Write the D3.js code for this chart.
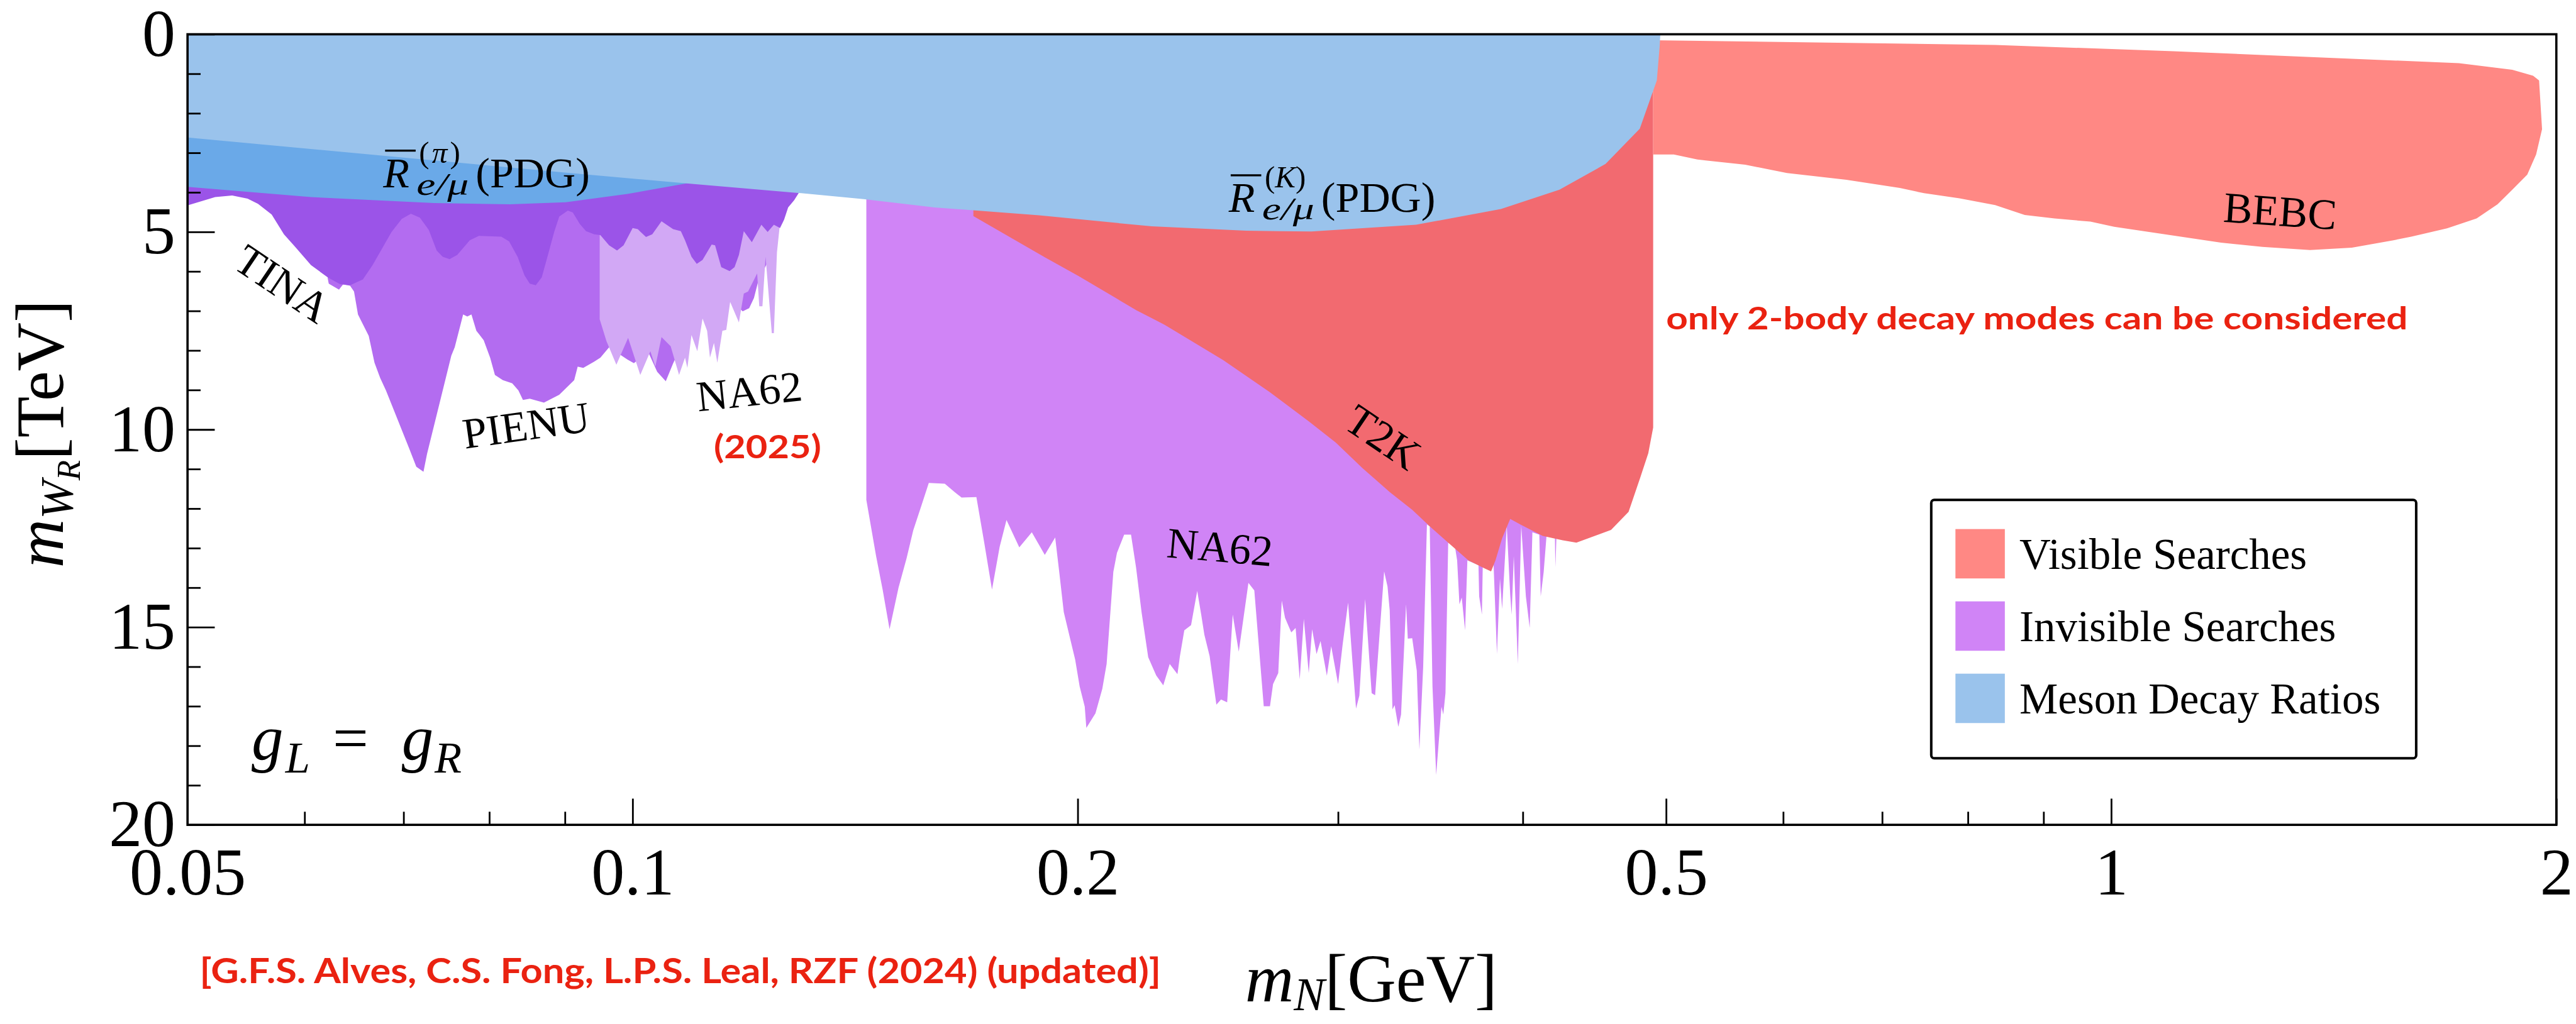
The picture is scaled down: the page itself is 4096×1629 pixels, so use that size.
<!DOCTYPE html>
<html>
<head>
<meta charset="utf-8">
<script src="https://d3js.org/d3.v7.min.js"></script>
<style>
  body { margin: 0; background: #ffffff; }
  svg { display: block; }
  text { font-family: "Liberation Serif", "DejaVu Serif", serif; fill: #000; }
  .note { font-family: "Comic Sans MS", "Lato", "Noto Sans", sans-serif; font-weight: bold; fill: #ea2211; }
</style>
</head>
<body>
<svg id="chart"></svg>
<script>
// axis ticks
const xMajorTicks = [0.05, 0.1, 0.2, 0.5, 1, 2];
const xMinorTicks = [0.06, 0.07, 0.08, 0.09, 0.3, 0.4, 0.6, 0.7, 0.8, 0.9];
const yMajorTicks = [0, 5, 10, 15, 20];
const yMinorTicks = [1, 2, 3, 4, 6, 7, 8, 9, 11, 12, 13, 14, 16, 17, 18, 19];

// lower edges of the excluded regions, [m_N (GeV), m_WR (TeV)]
const kaonRatio = [[0.050, 2.61], [0.070, 3.12], [0.090, 3.50], [0.110, 3.79], [0.130, 4.02], [0.1433, 4.17],
  [0.160, 4.38], [0.1883, 4.58], [0.2244, 4.86], [0.2600, 4.97], [0.2878, 4.99], [0.3387, 4.82], [0.3866, 4.42],
  [0.4235, 3.93], [0.4550, 3.28], [0.4799, 2.39], [0.4928, 1.17], [0.4950, 0.30], [0.4955, 0.0]];

const pionRatio = [[0.050, 3.86], [0.0606, 4.12], [0.0734, 4.27], [0.0826, 4.30], [0.0901, 4.25], [0.0992, 4.04],
  [0.1092, 3.76], [0.1111, 3.70], [0.1150, 3.50], [0.1200, 3.20]];

const tina = [[0.0500, 4.33], [0.0522, 4.12], [0.0536, 4.08], [0.0549, 4.16], [0.0558, 4.29], [0.0570, 4.56],
  [0.0581, 5.06], [0.0591, 5.37], [0.0606, 5.84], [0.0622, 6.15], [0.0634, 6.32], [0.0644, 6.35], [0.0657, 6.20],
  [0.0667, 5.84], [0.0687, 5.00], [0.0698, 4.67], [0.0708, 4.54], [0.0718, 4.64], [0.0728, 4.95], [0.0737, 5.47],
  [0.0744, 5.63], [0.0752, 5.69], [0.0761, 5.58], [0.0776, 5.21], [0.0787, 5.10], [0.0815, 5.12], [0.0825, 5.24],
  [0.0836, 5.63], [0.0845, 6.10], [0.0852, 6.31], [0.0860, 6.35], [0.0868, 6.15], [0.0875, 5.68], [0.0885, 5.00],
  [0.0892, 4.61], [0.0904, 4.46], [0.0911, 4.51], [0.0921, 4.80], [0.0930, 4.98], [0.0942, 5.06], [0.0951, 5.08],
  [0.0964, 5.34], [0.0976, 5.47], [0.0986, 5.34], [0.1000, 4.90], [0.1008, 4.93], [0.1021, 5.13], [0.1031, 5.06],
  [0.1046, 4.73], [0.1065, 4.93], [0.1078, 4.98], [0.1085, 5.21], [0.1096, 5.63], [0.1105, 5.81], [0.1115, 5.71],
  [0.1131, 5.32], [0.1137, 5.34], [0.1148, 5.89], [0.1163, 5.99], [0.1172, 5.89], [0.1180, 5.58], [0.1189, 4.98],
  [0.1204, 5.26], [0.1222, 4.82], [0.1234, 5.00], [0.1246, 4.82], [0.1258, 4.90], [0.1266, 4.69], [0.1274, 4.38],
  [0.1286, 4.20], [0.1295, 4.02], [0.1298, 3.90]];

const pienu = [[0.0622, 6.18], [0.0623, 6.31], [0.0633, 6.46], [0.0637, 6.33], [0.0644, 6.36], [0.0648, 6.51],
  [0.0652, 7.09], [0.0663, 7.63], [0.0669, 8.31], [0.0675, 8.70], [0.0681, 9.01], [0.0689, 9.48], [0.0706, 10.47],
  [0.0714, 10.94], [0.0722, 11.07], [0.0726, 10.62], [0.0754, 8.13], [0.0758, 7.92], [0.0768, 7.09], [0.0773, 7.14],
  [0.0778, 7.09], [0.0784, 7.50], [0.0793, 7.74], [0.0801, 8.18], [0.0807, 8.62], [0.0817, 8.75], [0.0829, 8.83],
  [0.0837, 9.01], [0.0843, 9.25], [0.0852, 9.22], [0.0871, 9.32], [0.0892, 9.12], [0.0913, 8.75], [0.0918, 8.41],
  [0.0926, 8.44], [0.0942, 8.28], [0.0951, 8.18], [0.0964, 7.92], [0.0992, 8.23], [0.1002, 8.32], [0.1024, 8.02],
  [0.1039, 8.54], [0.1053, 8.78], [0.1065, 8.33], [0.1068, 8.23], [0.1075, 7.00], [0.1160, 6.70], [0.1164, 6.72],
  [0.1187, 7.01], [0.1199, 6.93], [0.1208, 6.67], [0.1216, 6.25], [0.1240, 5.60], [0.1254, 5.11]];

const na62New = [[0.0950, 7.21], [0.0960, 7.76], [0.0975, 8.36], [0.0993, 7.68], [0.1012, 8.62], [0.1028, 8.02],
  [0.1036, 8.41], [0.1046, 7.66], [0.1061, 7.89], [0.1075, 8.62], [0.1085, 8.18], [0.1089, 8.44], [0.1096, 7.61],
  [0.1106, 8.02], [0.1115, 7.19], [0.1123, 7.50], [0.1128, 8.18], [0.1135, 7.81], [0.1141, 8.31], [0.1150, 7.50],
  [0.1157, 7.48], [0.1164, 6.77], [0.1180, 7.29], [0.1189, 6.56], [0.1197, 6.51], [0.1214, 6.05], [0.1218, 6.88],
  [0.1224, 6.88], [0.1230, 5.63], [0.1242, 7.56], [0.1246, 7.56], [0.1252, 5.52], [0.1257, 4.90]];

const na62 = [[0.1439, 11.78], [0.1461, 13.20], [0.1476, 14.05], [0.1492, 15.05], [0.1513, 14.00], [0.1532, 13.26],
  [0.1548, 12.55], [0.1567, 11.95], [0.1586, 11.35], [0.1626, 11.37], [0.1651, 11.58], [0.1669, 11.72], [0.1708, 11.71],
  [0.1729, 12.86], [0.1750, 14.05], [0.1771, 12.97], [0.1790, 12.29], [0.1826, 12.98], [0.1862, 12.60], [0.1900, 13.17],
  [0.1931, 12.73], [0.1944, 13.66], [0.1957, 14.62], [0.1992, 15.82], [0.2006, 16.50], [0.2022, 17.01], [0.2027, 17.55],
  [0.2056, 17.18], [0.2078, 16.56], [0.2092, 15.93], [0.2114, 13.60], [0.2126, 13.12], [0.2150, 12.66], [0.2173, 12.66],
  [0.2190, 13.48], [0.2209, 14.62], [0.2232, 15.76], [0.2260, 16.22], [0.2285, 16.47], [0.2308, 15.93], [0.2336, 16.19],
  [0.2345, 15.73], [0.2361, 15.08], [0.2386, 14.95], [0.2409, 14.08], [0.2424, 14.68], [0.2436, 15.19], [0.2456, 15.73],
  [0.2482, 16.96], [0.2500, 16.83], [0.2524, 16.90], [0.2546, 14.68], [0.2570, 15.62], [0.2609, 13.88], [0.2633, 14.07],
  [0.2672, 17.00], [0.2698, 17.00], [0.2711, 16.44], [0.2733, 16.16], [0.2748, 14.33], [0.2762, 14.76], [0.2789, 15.13],
  [0.2808, 15.02], [0.2826, 16.32], [0.2844, 14.79], [0.2866, 16.16], [0.2881, 15.05], [0.2901, 15.68], [0.2919, 15.35],
  [0.2948, 16.23], [0.2968, 15.48], [0.3000, 16.44], [0.3021, 15.45], [0.3047, 14.38], [0.3069, 15.96], [0.3085, 17.06],
  [0.3101, 16.73], [0.3129, 14.29], [0.3161, 16.67], [0.3178, 16.72], [0.3223, 13.59], [0.3240, 13.97], [0.3251, 14.57],
  [0.3265, 17.08], [0.3276, 16.97], [0.3295, 17.52], [0.3309, 17.21], [0.3335, 14.42], [0.3344, 15.29], [0.3367, 15.28],
  [0.3391, 16.10], [0.3405, 18.10], [0.3425, 16.00], [0.3445, 12.40], [0.3460, 12.45], [0.3475, 16.50], [0.3495, 18.74],
  [0.3524, 17.01], [0.3534, 17.21], [0.3546, 16.67], [0.3561, 12.86], [0.3599, 12.97], [0.3611, 13.31], [0.3624, 14.42],
  [0.3637, 14.25], [0.3656, 15.08], [0.3669, 13.31], [0.3733, 13.43], [0.3737, 14.22], [0.3753, 14.68], [0.3758, 13.43],
  [0.3822, 13.43], [0.3842, 15.68], [0.3860, 13.77], [0.3873, 14.54], [0.3901, 12.43], [0.3922, 14.17], [0.3931, 14.68],
  [0.3944, 13.20], [0.3969, 15.93], [0.3990, 12.43], [0.4019, 14.22], [0.4043, 15.02], [0.4060, 12.60], [0.4104, 12.66],
  [0.4113, 14.22], [0.4132, 13.60], [0.4150, 12.70], [0.4205, 12.75], [0.4208, 13.48], [0.4215, 12.70], [0.4250, 12.60]];

const t2k = [[0.1700, 4.46], [0.1700, 4.60], [0.1900, 5.64], [0.2003, 6.12], [0.2191, 6.98], [0.2290, 7.35],
  [0.2508, 8.24], [0.2696, 9.05], [0.2866, 9.79], [0.2989, 10.33], [0.3117, 10.98], [0.3251, 11.58], [0.3367, 12.03],
  [0.3463, 12.46], [0.3561, 12.86], [0.3675, 13.31], [0.3767, 13.51], [0.3807, 13.59], [0.3833, 13.31], [0.3873, 12.75],
  [0.3922, 12.26], [0.3984, 12.40], [0.4125, 12.69], [0.4256, 12.80], [0.4348, 12.86], [0.4589, 12.54], [0.4716, 12.08],
  [0.4799, 11.25], [0.4863, 10.60], [0.4900, 9.95]];

const bebc = [[0.490, 0.15], [0.8346, 0.27], [1.1016, 0.43], [1.4545, 0.62], [1.7185, 0.73], [1.8675, 0.90],
  [1.929, 1.05], [1.947, 1.17], [1.956, 2.40], [1.938, 3.04], [1.9115, 3.55], [1.8675, 3.93], [1.825, 4.30],
  [1.7665, 4.66], [1.687, 4.91], [1.5955, 5.12], [1.552, 5.21], [1.4545, 5.40], [1.363, 5.46], [1.2655, 5.38],
  [1.1865, 5.27], [1.0045, 4.87], [0.968, 4.74], [0.9155, 4.66], [0.874, 4.57], [0.8346, 4.32], [0.7895, 4.15],
  [0.747, 4.02], [0.7195, 3.89], [0.662, 3.68], [0.6035, 3.51], [0.5655, 3.30], [0.525, 3.17], [0.506, 3.04],
  [0.490, 3.04]];

const legendLabels = ["Visible Searches", "Invisible Searches", "Meson Decay Ratios"];

const colors = {
  visible: "#ff8884", t2k: "#f26a70",
  invisible: "#d084f6", pienu: "#b36cf0", tina: "#9b54e8", na62New: "#d2a8f5",
  kaon: "#9ac3ec", pion: "#6aa9e8",
  note: "#ea2211"
};

// reference is 5110 x 2032, drawn at 0.8016
const plot = {left: 372, right: 5071, top: 68, bottom: 1637};
const x = d3.scaleLog().domain([0.05, 2]).range([plot.left, plot.right]);
const y = d3.scaleLinear().domain([0, 20]).range([plot.top, plot.bottom]);

const svg = d3.select("#chart").attr("width", 4096).attr("height", 1629);
const root = svg.append("g").attr("transform", "scale(" + (4096 / 5110) + ")");

root.append("clipPath").attr("id", "plotClip")
  .append("rect")
    .attr("x", plot.left).attr("y", plot.top)
    .attr("width", plot.right - plot.left).attr("height", plot.bottom - plot.top);

const regions = root.append("g").attr("clip-path", "url(#plotClip)");

function plotRegion(g, data, color) {
  let area = d3.area()
    .x(function(d) { return x(d[0]); })
    .y0(y(0))
    .y1(function(d) { return y(d[1]); });
  g.append("path").datum(data).attr("d", area).attr("fill", color);
}

function plotOutline(g, data, color) {
  let line = d3.line()
    .x(function(d) { return x(d[0]); })
    .y(function(d) { return y(d[1]); })
    .curve(d3.curveLinearClosed);
  g.append("path").datum(data).attr("d", line).attr("fill", color);
}

plotRegion(regions, na62, colors.invisible);
plotRegion(regions, t2k, colors.t2k);
plotOutline(regions, bebc, colors.visible);
plotRegion(regions, pienu, colors.pienu);
plotRegion(regions, na62New, colors.na62New);
plotRegion(regions, tina, colors.tina);
plotRegion(regions, pionRatio, colors.pion);
plotRegion(regions, kaonRatio, colors.kaon);

// frame
root.append("rect")
  .attr("x", plot.left).attr("y", plot.top)
  .attr("width", plot.right - plot.left).attr("height", plot.bottom - plot.top)
  .attr("fill", "none").attr("stroke", "#000").attr("stroke-width", 4.5);

function styleAxis(a, size) {
  a.select(".domain").remove();
  a.attr("font-family", null).attr("font-size", null);
  a.selectAll(".tick line").attr("stroke", "#000").attr("stroke-width", 3.5);
  a.selectAll(".tick text").attr("font-size", size).attr("fill", "#000");
}

function formatXAxis(g) {
  let major = g.append("g")
    .attr("transform", "translate(0," + plot.bottom + ")")
    .call(d3.axisBottom(x).tickValues(xMajorTicks).tickSize(-52).tickPadding(44)
      .tickFormat(function(d) { return String(d); }));
  styleAxis(major, 132);
  let minor = g.append("g")
    .attr("transform", "translate(0," + plot.bottom + ")")
    .call(d3.axisBottom(x).tickValues(xMinorTicks).tickSize(-26).tickFormat(""));
  styleAxis(minor, 0);
}

function formatYAxis(g) {
  let major = g.append("g")
    .attr("transform", "translate(" + plot.left + ",0)")
    .call(d3.axisLeft(y).tickValues(yMajorTicks).tickSize(-54).tickPadding(24)
      .tickFormat(function(d) { return String(d); }));
  styleAxis(major, 132);
  let minor = g.append("g")
    .attr("transform", "translate(" + plot.left + ",0)")
    .call(d3.axisLeft(y).tickValues(yMinorTicks).tickSize(-26).tickFormat(""));
  styleAxis(minor, 0);
}

formatXAxis(root);
formatYAxis(root);

// axis titles
let xTitle = root.append("text")
  .attr("x", 2720).attr("y", 1987)
  .attr("text-anchor", "middle")
  .attr("font-size", 134);
xTitle.append("tspan").attr("font-style", "italic").text("m");
xTitle.append("tspan").attr("font-style", "italic").attr("font-size", 92).attr("dy", 18).text("N");
xTitle.append("tspan").attr("dy", -18).text("[GeV]");

let yTitle = root.append("text")
  .attr("text-anchor", "middle")
  .attr("font-size", 134)
  .attr("transform", "translate(125,861) rotate(-90)");
yTitle.append("tspan").attr("font-style", "italic").text("m");
yTitle.append("tspan").attr("font-style", "italic").attr("font-size", 92).attr("dy", 20).text("W");
yTitle.append("tspan").attr("font-style", "italic").attr("font-size", 66).attr("dy", 14).text("R");
yTitle.append("tspan").attr("dy", -34).text("[TeV]");

// region labels
function addLabel(g, text, at, angle, size) {
  g.append("text")
    .attr("text-anchor", "middle")
    .attr("dy", "0.35em")
    .attr("font-size", size)
    .attr("transform", "translate(" + x(at[0]) + "," + y(at[1]) + ") rotate(" + angle + ")")
    .text(text);
}

addLabel(root, "TINA", [0.0580, 6.30], 34, 86);
addLabel(root, "PIENU", [0.0847, 9.88], -8, 86);
addLabel(root, "NA62", [0.1199, 9.02], -6, 86);
addLabel(root, "NA62", [0.2496, 12.96], 5, 86);
addLabel(root, "T2K", [0.3219, 10.18], 34, 86);
addLabel(root, "BEBC", [1.301, 4.46], 4, 86);

function addRatioLabel(g, at, meson, size) {
  let lab = g.append("g")
    .attr("transform", "translate(" + x(at[0]) + "," + y(at[1]) + ")")
    .attr("font-size", size);
  lab.append("text").attr("font-style", "italic").text("R");
  lab.append("line")
    .attr("x1", 4).attr("x2", 0.76 * size)
    .attr("y1", -0.86 * size).attr("y2", -0.86 * size)
    .attr("stroke", "#000").attr("stroke-width", 4);
  let sup = lab.append("text")
    .attr("x", 0.84 * size).attr("y", -0.58 * size)
    .attr("font-size", 0.72 * size)
    .attr("textLength", 0.96 * size).attr("lengthAdjust", "spacing");
  sup.append("tspan").text("(");
  sup.append("tspan").attr("font-style", "italic").text(meson);
  sup.append("tspan").text(")");
  lab.append("text")
    .attr("x", 0.78 * size).attr("y", 0.17 * size)
    .attr("font-size", 0.74 * size).attr("font-style", "italic")
    .attr("textLength", 1.22 * size).attr("lengthAdjust", "spacingAndGlyphs")
    .text("e/μ");
  lab.append("text").attr("x", 2.16 * size).text("(PDG)");
}

addRatioLabel(root, [0.0678, 3.875], "π", 85);
addRatioLabel(root, [0.253, 4.50], "K", 85);

// g_L = g_R, glyphs placed at the reference positions
let coupling = root.append("text")
  .attr("y", 1507)
  .attr("font-size", 126).attr("font-style", "italic");
coupling.append("tspan").attr("x", 499).text("g");
coupling.append("tspan").attr("x", 566).attr("font-size", 88).attr("dy", 26).text("L");
coupling.append("tspan").attr("x", 660).attr("dy", -26).attr("font-style", "normal").text("=");
coupling.append("tspan").attr("x", 797).text("g");
coupling.append("tspan").attr("x", 862).attr("font-size", 88).attr("dy", 26).text("R");

// red notes
root.append("text").attr("class", "note")
  .attr("x", x(0.5)).attr("y", 654)
  .attr("font-size", 62)
  .attr("textLength", 1471).attr("lengthAdjust", "spacingAndGlyphs")
  .text("only 2-body decay modes can be considered");

root.append("text").attr("class", "note")
  .attr("x", 1416).attr("y", 909)
  .attr("font-size", 64)
  .attr("textLength", 213).attr("lengthAdjust", "spacingAndGlyphs")
  .text("(2025)");

root.append("text").attr("class", "note")
  .attr("x", 396).attr("y", 1951)
  .attr("font-size", 68)
  .attr("textLength", 1907).attr("lengthAdjust", "spacingAndGlyphs")
  .text("[G.F.S. Alves, C.S. Fong, L.P.S. Leal, RZF (2024) (updated)]");

// legend
function addLegend(g) {
  let legend = g.append("g").attr("transform", "translate(3831,992)");
  legend.append("rect")
    .attr("width", 962).attr("height", 513).attr("rx", 6)
    .attr("fill", "#fff").attr("stroke", "#000").attr("stroke-width", 5);
  let swatches = [colors.visible, colors.invisible, colors.kaon];
  legendLabels.forEach(function(label, i) {
    legend.append("rect")
      .attr("x", 48).attr("y", 58 + i * 143.5)
      .attr("width", 98).attr("height", 98)
      .attr("fill", swatches[i]);
    legend.append("text")
      .attr("x", 175).attr("y", 107 + i * 143.5)
      .attr("dy", "0.35em")
      .attr("font-size", 86)
      .text(label);
  });
}

addLegend(root);
</script>
</body>
</html>
